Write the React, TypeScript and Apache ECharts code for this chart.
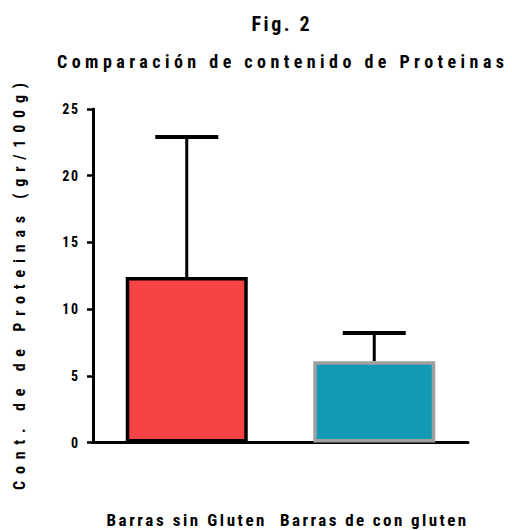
import React, { useEffect, useRef } from "react";
import * as echarts from "echarts";

// Protein content per bar type (gr/100g): mean and standard deviation
const categories = ["Barras sin Gluten", "Barras de con gluten"];
const means = [12.4, 6.1];
const sds = [10.5, 2.1];

// Value axis range and step
const yMin = 0;
const yMax = 25;
const yStep = 5;

const figLabel = "Fig. 2";
const chartTitle = "Comparación de contenido de Proteinas";
const yAxisName = "Cont. de de Proteinas (gr/100g)";

const barFills = ["#F74343", "#129AB5"];
const barBorders = ["#000000", "#A0A0A0"];

const FONT = '"Roboto Condensed", "Liberation Sans", Arial, sans-serif';

// Font sizes and the widths the wide-tracked lettering is spread over
const figStyle = { size: 20, width: 58 };
const titleStyle = { size: 18, width: 447 };
const yNameStyle = { size: 16, width: 407 };
const catStyle = { size: 17, widths: [158, 186] };
const tickStyle = { size: 14, spacing: 1.5 };

function naturalWidth(text: string, size: number): number {
  const ctx = document.createElement("canvas").getContext("2d");
  if (!ctx) return text.length * size * 0.5;
  ctx.font = `bold ${size}px ${FONT}`;
  return ctx.measureText(text).width;
}

function spacingFor(text: string, size: number, width: number): number {
  const n = Array.from(text).length;
  return Math.max(0, (width - naturalWidth(text, size)) / Math.max(1, n - 1));
}

export default function App() {
  const ref = useRef<HTMLDivElement>(null);

  useEffect(() => {
    const el = ref.current;
    if (!el) return;
    const chart = echarts.init(el, undefined, { renderer: "svg" });

    const tracking: Record<string, number> = {
      [figLabel]: spacingFor(figLabel, figStyle.size, figStyle.width),
      [chartTitle]: spacingFor(chartTitle, titleStyle.size, titleStyle.width),
      [yAxisName]: spacingFor(yAxisName, yNameStyle.size, yNameStyle.width),
    };
    categories.forEach((c, i) => {
      tracking[c] = spacingFor(c, catStyle.size, catStyle.widths[i]);
    });

    const applyTracking = () => {
      el.querySelectorAll("text").forEach((t) => {
        const s = tracking[(t.textContent || "").trim()] ?? tickStyle.spacing;
        (t as SVGTextElement).style.letterSpacing = `${s}px`;
      });
    };

    const errorData = means.map((m, i) => [i, m, sds[i]]);
    const plotCenterX = 280.5;

    chart.setOption({
      animation: false,
      backgroundColor: "#ffffff",
      textStyle: { fontFamily: FONT, fontWeight: "bold", color: "#000" },
      grid: { left: 93, right: 44, top: 109, bottom: 87.5 },
      graphic: [
        {
          type: "text",
          x: plotCenterX + tracking[figLabel] / 2,
          y: 23.5,
          style: {
            text: figLabel,
            font: `bold ${figStyle.size}px ${FONT}`,
            fill: "#000",
            textAlign: "center",
            textVerticalAlign: "middle",
          },
        },
        {
          type: "text",
          x: plotCenterX + tracking[chartTitle] / 2,
          y: 61,
          style: {
            text: chartTitle,
            font: `bold ${titleStyle.size}px ${FONT}`,
            fill: "#000",
            textAlign: "center",
            textVerticalAlign: "middle",
          },
        },
        {
          type: "text",
          x: 19,
          y: 286.5 - tracking[yAxisName] / 2,
          rotation: Math.PI / 2,
          style: {
            text: yAxisName,
            font: `bold ${yNameStyle.size}px ${FONT}`,
            fill: "#000",
            textAlign: "center",
            textVerticalAlign: "middle",
          },
        },
      ],
      xAxis: {
        type: "category",
        data: categories,
        axisLine: { lineStyle: { color: "#000", width: 3 } },
        axisTick: {
          alignWithLabel: true,
          length: 9,
          lineStyle: { color: "#000", width: 2.5 },
        },
        axisLabel: {
          margin: 69,
          fontSize: catStyle.size,
          fontWeight: "bold",
          fontFamily: FONT,
          color: "#000",
          interval: 0,
        },
        splitLine: { show: false },
      },
      yAxis: {
        type: "value",
        min: yMin,
        max: yMax,
        interval: yStep,
        axisLine: { show: true, lineStyle: { color: "#000", width: 3 } },
        axisTick: { show: true, length: 6, lineStyle: { color: "#000", width: 2.5 } },
        axisLabel: {
          margin: 13.5,
          fontSize: tickStyle.size,
          fontWeight: "bold",
          fontFamily: FONT,
          color: "#000",
        },
        splitLine: { show: false },
      },
      series: [
        {
          type: "bar",
          silent: true,
          barWidth: 122,
          data: means.map((m, i) => ({
            value: m,
            itemStyle: {
              color: barFills[i],
              borderColor: barBorders[i],
              borderWidth: 3.5,
            },
          })),
          z: 2,
        },
        {
          type: "custom",
          silent: true,
          z: 3,
          data: errorData,
          encode: { x: 0, y: 1 },
          renderItem: (params: any, api: any) => {
            const idx = api.value(0);
            const mean = api.value(1);
            const sd = api.value(2);
            const base = api.coord([idx, mean]);
            const top = api.coord([idx, mean + sd]);
            const half = 31.5;
            return {
              type: "group",
              children: [
                {
                  type: "line",
                  shape: { x1: base[0], y1: base[1], x2: top[0], y2: top[1] },
                  style: { stroke: "#000", lineWidth: 3 },
                },
                {
                  type: "line",
                  shape: { x1: top[0] - half, y1: top[1], x2: top[0] + half, y2: top[1] },
                  style: { stroke: "#000", lineWidth: 4 },
                },
              ],
            };
          },
        },
      ],
    });

    chart.on("finished", applyTracking);
    chart.on("rendered", applyTracking);
    applyTracking();
    const timer = window.setTimeout(applyTracking, 50);

    return () => {
      window.clearTimeout(timer);
      chart.dispose();
    };
  }, []);

  return (
    <div
      ref={ref}
      style={{ position: "fixed", left: 0, top: 0, width: 512, height: 530, background: "#fff" }}
    />
  );
}
